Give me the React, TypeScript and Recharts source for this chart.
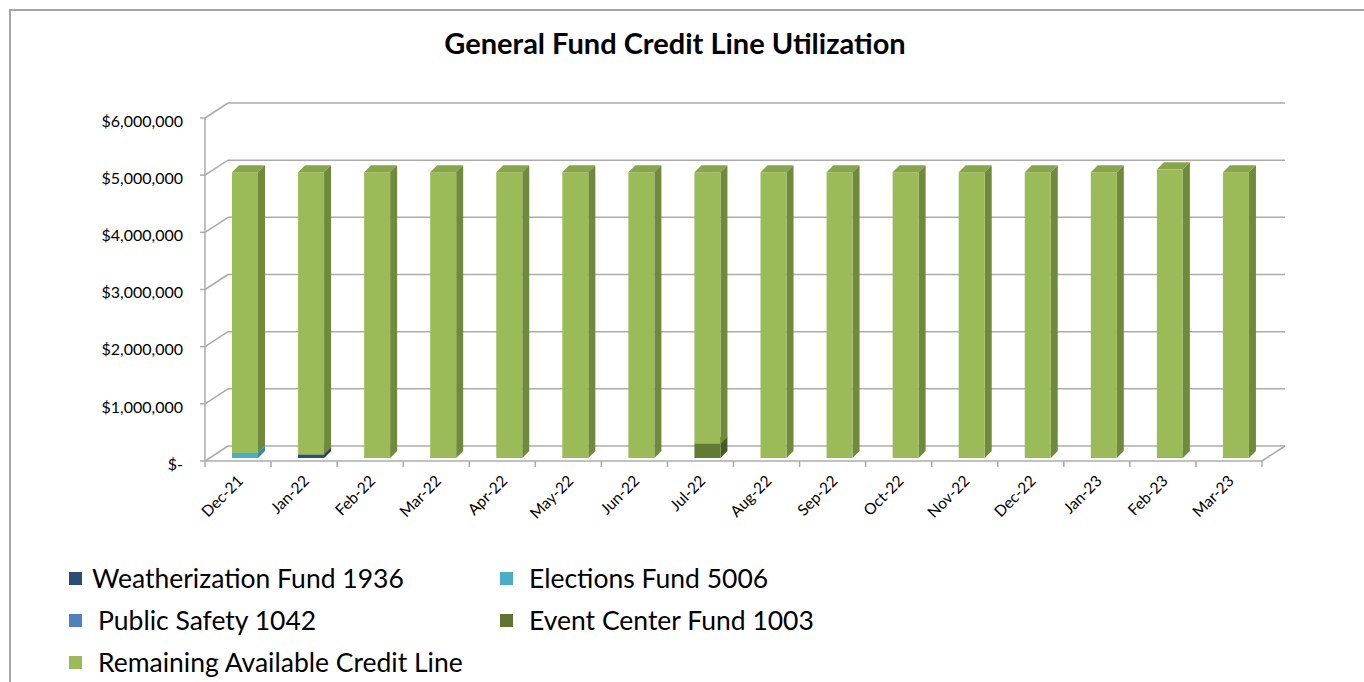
import React from 'react';
import { BarChart, Bar, XAxis, YAxis, CartesianGrid } from 'recharts';

const categories = ['Dec-21','Jan-22','Feb-22','Mar-22','Apr-22','May-22','Jun-22','Jul-22','Aug-22','Sep-22','Oct-22','Nov-22','Dec-22','Jan-23','Feb-23','Mar-23'];
const weatherization = [0, 60000, 0, 0, 0, 0, 0, 0, 0, 0, 0, 0, 0, 0, 0, 0];
const elections = [90000, 0, 0, 0, 0, 0, 0, 0, 0, 0, 0, 0, 0, 0, 15000, 0];
const publicSafety = [0, 0, 0, 0, 0, 0, 0, 0, 0, 0, 0, 0, 0, 0, 0, 0];
const eventCenter = [0, 0, 0, 0, 0, 0, 0, 250000, 0, 0, 0, 0, 0, 0, 0, 0];
const remaining = [4910000, 4940000, 5000000, 5000000, 5000000, 5000000, 5000000, 4750000, 5000000, 5000000, 5000000, 5000000, 5000000, 5000000, 5035000, 5000000];
const yTicks = [0, 1000000, 2000000, 3000000, 4000000, 5000000, 6000000];

const seriesNames = ['Weatherization Fund 1936', 'Elections Fund 5006', 'Public Safety 1042', 'Event Center Fund 1003', 'Remaining Available Credit Line'];
const seriesKeys = ['w', 'e', 'p', 'ec', 'r'];
const colors = [
  { front: '#2C4D75', side: '#1E3653', top: '#25426A', legend: '#2C4D75' },
  { front: '#4BACC6', side: '#3788A0', top: '#419AB3', legend: '#4BACC6' },
  { front: '#4F81BD', side: '#3A6497', top: '#4573AA', legend: '#4F81BD' },
  { front: '#627B33', side: '#475A23', top: '#566C2C', legend: '#5F7530' },
  { front: '#9BBB59', side: '#6E8A3A', top: '#87A64B', legend: '#9BBB59' },
];

const data = categories.map((c, i) => ({
  name: c,
  w: weatherization[i],
  e: elections[i],
  p: publicSafety[i],
  ec: eventCenter[i],
  r: remaining[i],
}));

const FONT = 'Lato, "Open Sans", sans-serif';
const GRID = '#ABABAB';
const WALL_DX = 23;
const WALL_DY = 15;
const BAR_SX = 7;
const BAR_SY = -3;
const DEPTH_X = 7;
const DEPTH_Y = 7;
const PLOT_LEFT = 205;
const PLOT_RIGHT = 1262;
const PLOT_TOP = 118;
const PLOT_BOTTOM = 461;
const BAND = (PLOT_RIGHT - PLOT_LEFT) / categories.length;

const makeShape = (c: { front: string; side: string; top: string }) => (props: any) => {
  const { x, y, width, height } = props;
  if (!height || height <= 0) return <g />;
  const fx = x + BAR_SX;
  const fy = y + BAR_SY;
  const side = `${fx + width},${fy} ${fx + width + DEPTH_X},${fy - DEPTH_Y} ${fx + width + DEPTH_X},${fy + height - DEPTH_Y} ${fx + width},${fy + height}`;
  const top = `${fx},${fy} ${fx + DEPTH_X},${fy - DEPTH_Y} ${fx + width + DEPTH_X},${fy - DEPTH_Y} ${fx + width},${fy}`;
  return (
    <g>
      <polygon points={top} fill={c.top} />
      <polygon points={side} fill={c.side} />
      <rect x={fx} y={fy} width={width} height={height} fill={c.front} />
    </g>
  );
};

const gridLine = (props: any) => {
  const { x1, y1, x2 } = props;
  const isFloor = Math.abs(y1 - PLOT_BOTTOM) < 2;
  return (
    <g key={props.key}>
      <line x1={x1} y1={y1} x2={x1 + WALL_DX} y2={y1 - WALL_DY} stroke={GRID} strokeWidth={1.5} />
      <line x1={x1 + WALL_DX} y1={y1 - WALL_DY} x2={x2 + WALL_DX} y2={y1 - WALL_DY} stroke={GRID} strokeWidth={1.5} />
      {isFloor && <line x1={x2} y1={y1} x2={x2 + WALL_DX} y2={y1 - WALL_DY} stroke={GRID} strokeWidth={1.5} />}
    </g>
  );
};

const XTick = (props: any) => {
  const { x, y, payload, index } = props;
  const lx = x + 6;
  const ly = y + 21;
  return (
    <g>
      <line x1={x - BAND / 2} y1={y} x2={x - BAND / 2} y2={y + 6} stroke={GRID} strokeWidth={1.5} />
      {index === categories.length - 1 && (
        <line x1={x + BAND / 2} y1={y} x2={x + BAND / 2} y2={y + 6} stroke={GRID} strokeWidth={1.5} />
      )}
      <text x={lx} y={ly} textAnchor="end" transform={`rotate(-45, ${lx}, ${ly})`} fontSize={15.5} fill="#000" fontFamily={FONT}>
        {payload.value}
      </text>
    </g>
  );
};

const fmt = (v: number) => (v === 0 ? '$-' : '$' + v.toLocaleString('en-US'));

export default function App() {
  return (
    <div style={{ position: 'absolute', left: 0, top: 0, width: 1364, height: 682, overflow: 'hidden', background: '#fff', fontFamily: FONT }}>
      <div style={{ position: 'absolute', left: 9, top: 9, width: 1400, height: 700, border: '2px solid #A6A6A6', boxSizing: 'border-box' }} />
      <div style={{ position: 'absolute', left: 0, top: 25, width: 1350, textAlign: 'center', fontSize: 29, fontWeight: 700, color: '#000' }}>
        General Fund Credit Line Utilization
      </div>
      <div style={{ position: 'absolute', left: 0, top: 0 }}>
        <BarChart
          width={1364}
          height={545}
          data={data}
          margin={{ top: PLOT_TOP, right: 1364 - PLOT_RIGHT, bottom: 24, left: 105 }}
          barSize={26}
        >
          <CartesianGrid horizontal={gridLine} vertical={false} />
          <XAxis
            dataKey="name"
            interval={0}
            height={60}
            tickLine={false}
            tickSize={0}
            tickMargin={0}
            axisLine={{ stroke: GRID, strokeWidth: 1.5 }}
            tick={<XTick />}
          />
          <YAxis
            width={100}
            domain={[0, 6000000]}
            ticks={yTicks}
            tickFormatter={fmt}
            axisLine={{ stroke: GRID, strokeWidth: 1.5 }}
            tickLine={{ stroke: GRID, strokeWidth: 1.5 }}
            tickSize={5}
            tickMargin={17}
            tick={{ fontSize: 16, fill: '#000', fontFamily: FONT, dy: 3 }}
          />
          {seriesKeys.map((k, i) => (
            <Bar key={k} dataKey={k} stackId="a" name={seriesNames[i]} fill={colors[i].front} shape={makeShape(colors[i])} isAnimationActive={false} />
          ))}
        </BarChart>
      </div>
      {seriesNames.map((n, i) => {
        const col = i % 2;
        const row = Math.floor(i / 2);
        return (
          <div key={n} style={{ position: 'absolute', left: col === 0 ? 69 : 500, top: 563 + row * 42, height: 30, display: 'flex', alignItems: 'center', fontSize: 26.5, color: '#000' }}>
            <div style={{ width: 13, height: 13, background: colors[i].legend, marginRight: i === 0 ? 10 : 16 }} />
            <span>{n}</span>
          </div>
        );
      })}
    </div>
  );
}
